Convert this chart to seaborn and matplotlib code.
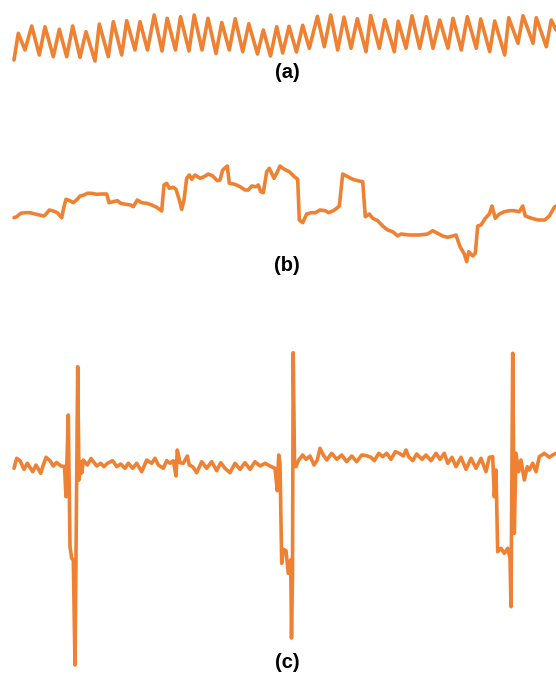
import numpy as np
import pandas as pd
import matplotlib
matplotlib.use("Agg")
import matplotlib.pyplot as plt
import seaborn as sns

a_t = [14, 18.3, 25, 31.7, 39.3, 45, 53.3, 59.3, 66.7, 72.7, 80, 86, 95, 99.3, 108.3, 113.3,
       121.7, 126.7, 135, 140, 147.5, 154.2, 162, 167.2, 175.5, 180.5, 189, 194.2, 202, 208,
       216, 221.8, 229.3, 235.2, 242.7, 248.8, 257.5, 263.3, 270.5, 276.7, 282.7, 289, 296.5,
       302.7, 309.3, 317.4, 324.3, 330.7, 337.7, 344, 351, 357.3, 366, 370.7, 379.3, 384.8,
       394.3, 398.2, 406, 412, 419.7, 426.3, 433, 439.7, 448, 453, 461.3, 467.3, 476.3, 480.7,
       489.7, 494.7, 504.7, 508.7, 518, 523, 533, 536.3, 546.3, 551.3, 556]
a_y = [60, 33.3, 50, 26, 55, 26.7, 56.7, 29.3, 56.7, 26, 57.3, 31.7, 61, 24, 56.7, 21.7,
       55, 20.7, 50, 21.7, 50, 15, 51, 18.3, 50, 16.7, 51, 15, 50, 18.3,
       53.5, 22.5, 50, 18.7, 51.7, 23.8, 54, 30, 56, 26.7, 53, 26.3, 52,
       25.3, 48.3, 16.3, 46.7, 15, 50, 17.2, 48.3, 18.7, 51.7, 15.5, 48.3, 19.7,
       51.7, 21.2, 48.3, 15.8, 48.3, 16.7, 48.3, 20, 48.3, 18.3, 50, 16.7, 48.3, 19,
       51.7, 21, 55, 17.7, 43.3, 15.7, 43.3, 17.7, 46.7, 20, 30]

b_t = [14, 16.7, 20.7, 25, 30, 35, 39.3, 44, 46.7, 49.3, 53.3, 57.3, 61.7, 64, 66, 70, 73.3,
       77.3, 80, 84, 87.3, 91.7, 96.7, 101.7, 106.7, 109, 113.3, 117.3, 120.7, 126, 130.7,
       133.3, 137.3, 141.7, 146.7, 151.7, 156.7, 161.7, 164, 166.7, 169.3, 173.3, 176, 179.3,
       181.7, 184, 186.7, 189.3, 191.7, 195, 200, 204, 208.3, 212.7, 217.3, 220, 222.7, 227.3,
       229.3, 235, 240, 245, 248.3, 251.7, 256, 258.3, 260.7, 263.3, 266.7, 269.3, 274, 277.3,
       280, 284.3, 289.3, 294.3, 297.7, 299.3, 302.7, 306.7, 311, 315.3, 320, 325.3, 328.7,
       333.3, 336.7, 339.3, 342.7, 347.7, 352.7, 357.7, 362.7, 365.3, 369.3, 372.7, 377.7,
       382.7, 387.7, 392.7, 397.7, 401, 409.3, 419.3, 427.7, 432.7, 437.7, 442.7, 447.7,
       452.7, 456, 460, 464.3, 466.7, 468.7, 472.7, 475.3, 477.7, 481, 485.3, 489.3, 492,
       495.3, 499.3, 504.3, 509.3, 514.3, 519.3, 522.7, 525.3, 531.7, 538.3, 544.7, 549.3,
       554.3, 556]
b_y = [217.7, 216.7, 213.3, 212.7, 212.7, 214, 215, 216, 213.3, 210, 211, 212.7, 217.7, 206.7,
       199.3, 200.7, 202.7, 199.3, 196, 195, 193.3, 193.3, 194.3, 194, 194, 202.7, 201.7,
       200.7, 203.3, 204.3, 205, 206.7, 200, 202.7, 203.3, 205, 207.3, 211, 185, 183.3, 188.3,
       187.3, 189.3, 200, 209.3, 200, 178.3, 175, 179.3, 175, 178.3, 176.7, 174, 176, 180.7,
       180, 170, 166, 183.3, 184.3, 186.7, 190, 190, 186, 186.7, 185, 191.7, 192.7, 171.7,
       168.3, 178.3, 172, 166, 169.3, 171.7, 176.7, 179.3, 220, 222.7, 214, 212.7, 212.7, 210,
       210.7, 212.7, 210.7, 208.3, 206, 174, 176.7, 179.3, 180.7, 181.7, 216.7, 214, 218.3,
       220.7, 226, 230, 231.7, 236, 234, 235, 235, 234, 230.7, 233.3, 236, 237.3, 236, 235,
       246.7, 254, 261.7, 251.7, 256, 253.3, 226, 225, 218.3, 214, 206, 218.3, 214, 211.7,
       210.7, 210.7, 211.7, 206, 216, 218.3, 220, 220, 216, 207.3, 206]

c_t = [14, 16.7, 20, 24, 27.3, 32.7, 36, 40.7, 42.7, 46, 50, 53.3, 56.5, 61, 64.5, 66, 66.8,
       68.3, 69.3, 70, 71.7, 73.3, 75, 77.7, 79, 80.5, 81.7, 83.3, 87.3, 91, 96.7, 100.7, 104,
       107.3, 112.7, 116.7, 120.7, 125, 128.3, 132.7, 136.7, 141.7, 146.7, 151.7, 155, 158.3,
       163.3, 166.7, 170, 173.3, 176, 177.3, 180, 183.3, 187.3, 189.3, 192.7, 196.7, 201.7,
       206.7, 211.7, 216.7, 220.7, 225, 230, 235, 240, 245, 250, 255, 260, 265, 270, 275,
       277.3, 278.7, 280, 281.7, 283.3, 286, 288.3, 290.7, 291.5, 292.5, 293.2, 294.5, 296,
       298.3, 302.7, 306, 310, 314, 317.3, 320, 323.3, 326.7, 331.7, 336.7, 341.7, 346.7,
       351.7, 356.7, 361.7, 366, 371, 374.3, 378.7, 382.7, 386.7, 391, 395.3, 399.3, 403.3,
       406, 408.7, 412.7, 416.7, 422, 426, 431, 436, 440, 444.3, 447.7, 452, 456, 461, 466,
       471, 476, 481, 486, 489.3, 492.7, 494.3, 496, 497.7, 501, 504.3, 507.7, 510, 511,
       512.7, 514.3, 516, 518.7, 521, 524.3, 527.3, 529.3, 532.7, 536, 539.3, 544.3, 549.3,
       552.7, 556]
c_y = [468.3, 458.3, 460.7, 469.3, 463.3, 471.7, 465, 473.3, 466.7, 457.3, 460.7, 466, 462.5,
       466, 466.5, 496.7, 465, 415, 490, 546.7, 558.3, 560, 665, 366.7, 480, 461.7, 473, 460,
       465, 458.5, 466, 463.3, 466.7, 463.3, 460.7, 466.7, 464, 468.3, 463.3, 468.3, 463.3,
       471.7, 460, 463.3, 458.3, 465, 468.3, 460.7, 463.3, 460.7, 476, 450, 462.7, 463.3,
       456, 465, 466.7, 472.7, 461.7, 468.3, 461.7, 470.7, 462.7, 468.3, 472.7, 463.3, 469.3,
       462.7, 469.3, 461.7, 466, 463.3, 466, 468.3, 490.7, 455, 463.3, 563.3, 549.3, 550.7,
       573.3, 560, 638, 575, 352.7, 463, 466.7, 460.7, 455, 459.3, 456, 465, 460, 448.3, 455,
       460, 453.3, 459.3, 455, 461.7, 456, 461.7, 455, 455.5, 457.3, 460.7, 453.3, 456.7,
       453.3, 459.3, 451.7, 453.3, 456, 450, 456.7, 460.7, 454, 459.3, 455, 460.7, 453.3,
       459.3, 453.3, 463.3, 457.3, 466.7, 457.3, 469.3, 458.3, 468.3, 458.3, 471.7, 457.3,
       456.7, 496.7, 470, 551.7, 548.3, 553.3, 548.3, 558.3, 606.7, 353.3, 533.3, 453.3,
       471.7, 460, 480, 466.7, 470, 463.3, 471.7, 456.7, 453.3, 457.3, 455, 453.3]

panel_labels = ["(a)", "(b)", "(c)"]

# ---------------- drawing ----------------
sns.set_theme(style="white")
plt.rcParams["font.family"] = ["Liberation Sans", "DejaVu Sans"]

W, H = 556, 677
fig = plt.figure(figsize=(W / 100, H / 100), dpi=100)
color = "#EF8133"

bands = [(0, 80), (140, 280), (330, 677)]
series = [(a_t, a_y), (b_t, b_y), (c_t, c_y)]
label_y = [73, 265, 663]

for (top, bottom), (t, y), lab, ly in zip(bands, series, panel_labels, label_y):
    ax = fig.add_axes([0, 1 - bottom / H, 1, (bottom - top) / H])
    df = pd.DataFrame({"t": t, "y": y})
    sns.lineplot(data=df, x="t", y="y", ax=ax, color=color, linewidth=2.6,
                 estimator=None, sort=False, solid_joinstyle="round",
                 solid_capstyle="round")
    ax.set_xlim(0, W)
    ax.set_ylim(bottom, top)
    ax.axis("off")
    fig.text(287 / W, 1 - ly / H, lab, ha="center", va="center",
             fontsize=14.5, fontweight="bold", color="black")

fig.savefig("out.png", dpi=100)
